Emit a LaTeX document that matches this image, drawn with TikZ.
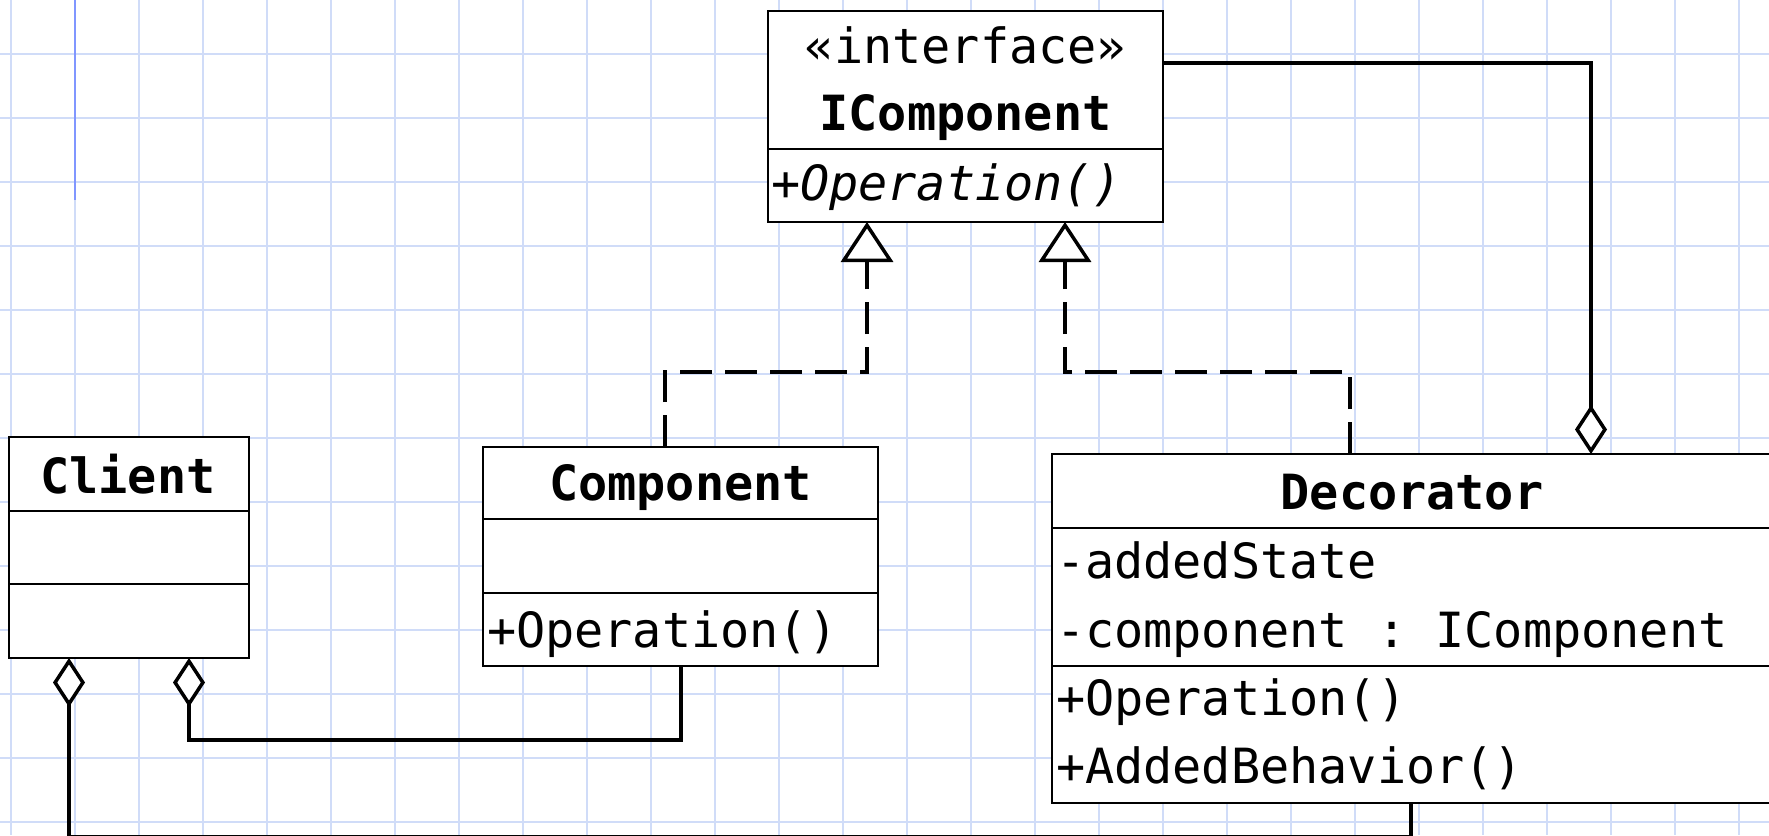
\documentclass[tikz,border=0pt]{standalone}
\usepackage{fontspec}
\setmonofont{DejaVu Sans Mono}
\usetikzlibrary{arrows.meta}
\definecolor{gridblue}{HTML}{D0DCF8}
\definecolor{markblue}{HTML}{8096FF}
\tikzset{
  gridline/.style={draw=gridblue, line width=1.7pt},
  box/.style={draw=black, line width=2pt, fill=white, inner sep=0pt, outer sep=0pt, anchor=north west},
  lbl/.style={inner sep=0pt, outer sep=0pt, anchor=base west, font=\ttfamily\fontsize{48.5}{58}\selectfont},
  title/.style={inner sep=0pt, outer sep=0pt, anchor=base, font=\ttfamily\bfseries\fontsize{48.5}{58}\selectfont},
  stereo/.style={inner sep=0pt, outer sep=0pt, anchor=base, font=\ttfamily\fontsize{48.5}{58}\selectfont},
  abstractop/.style={lbl, font=\ttfamily\itshape\fontsize{48.5}{58}\selectfont},
  conn/.style={draw=black, line width=3.5pt},
  aggstart/.style={conn, {Diamond[length=49pt,width=32pt,fill=white]}-},
  aggend/.style={conn, -{Diamond[length=49pt,width=32pt,fill=white]}},
  realize/.style={conn, dash pattern=on 32pt off 13pt, -{Triangle[length=40pt,width=52pt,fill=white]}},
}
\begin{document}
\begin{tikzpicture}[x=1pt, y=-1pt]
\useasboundingbox (0,0) rectangle (1769,835);
\clip (0,0) rectangle (1769,835);
\fill[white] (0,0) rectangle (1769,835);

% background grid
\foreach \gx in {11,75,...,1739} \draw[gridline] (\gx,0) -- (\gx,835);
\foreach \gy in {54,118,...,822} \draw[gridline] (0,\gy) -- (1769,\gy);
\draw[markblue, line width=2pt] (75,0) -- (75,200);

% IComponent (interface)
\node[box, minimum width=395pt, minimum height=138pt] (ic-h) at (768,11) {};
\node[box, minimum width=395pt, minimum height=73pt] (ic-m) at (768,149) {};
\node[stereo] (ic-st) at (965.5,63) {«interface»};
\node[title] (ic-name) at (965.5,130) {IComponent};
\node[abstractop] (ic-op) at (771,200) {+Operation()};

% Client
\node[box, minimum width=240pt, minimum height=74pt] (cl-h) at (9,437) {};
\node[box, minimum width=240pt, minimum height=73pt] (cl-a) at (9,511) {};
\node[box, minimum width=240pt, minimum height=74pt] (cl-m) at (9,584) {};
\node[title] (cl-name) at (128,493) {Client};

% Component
\node[box, minimum width=395pt, minimum height=72pt] (co-h) at (483,447) {};
\node[box, minimum width=395pt, minimum height=74pt] (co-a) at (483,519) {};
\node[box, minimum width=395pt, minimum height=73pt] (co-m) at (483,593) {};
\node[title] (co-name) at (680.5,500) {Component};
\node[lbl] (co-op) at (487,647) {+Operation()};

% Decorator
\node[box, minimum width=720pt, minimum height=74pt] (de-h) at (1052,454) {};
\node[box, minimum width=720pt, minimum height=138pt] (de-a) at (1052,528) {};
\node[box, minimum width=720pt, minimum height=137pt] (de-m) at (1052,666) {};
\node[title] (de-name) at (1412,509) {Decorator};
\node[lbl] (de-a1) at (1056,578) {-addedState};
\node[lbl] (de-a2) at (1056,647) {-component : IComponent};
\node[lbl] (de-m1) at (1056,715) {+Operation()};
\node[lbl] (de-m2) at (1056,783) {+AddedBehavior()};

% realizations of the interface
\draw[realize] ([xshift=182pt]co-h.north west) -- ++(0,-75) -| ([xshift=99pt]ic-m.south west);
\draw[realize] ([xshift=298pt]de-h.north west) -- ++(0,-82) -| ([xshift=297pt]ic-m.south west);

% aggregations
\draw[aggend] ([yshift=-52pt]ic-h.north east) -| ([xshift=539pt]de-h.north west);
\draw[aggstart] ([xshift=180pt]cl-m.south west) -- ++(0,82) -| ([xshift=198pt]co-m.south west);
\draw[aggstart] ([xshift=60pt]cl-m.south west) -- ++(0,178.4) -| ([xshift=359pt]de-m.south west);
\end{tikzpicture}
\end{document}
